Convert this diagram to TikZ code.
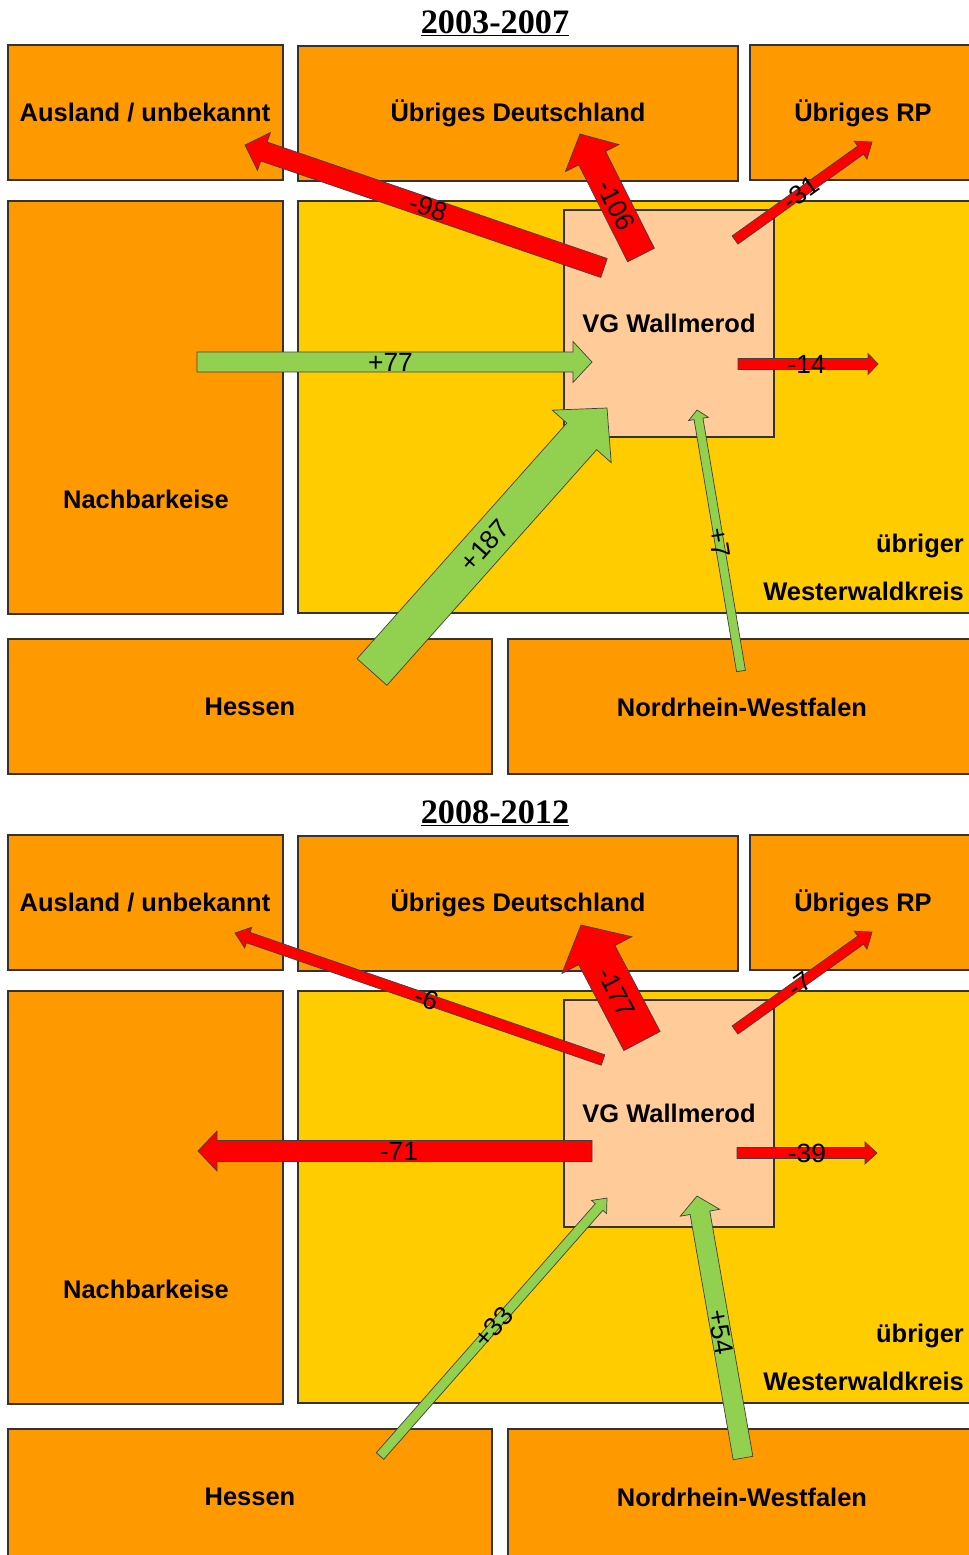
\documentclass[tikz,border=0pt]{standalone}
\usepackage{fontspec}
\setmainfont{Liberation Sans}
\newfontfamily\titlefont{Liberation Serif}
\usepackage{xcolor}
\usepackage{tikz}
\usetikzlibrary{calc}

\definecolor{areaorange}{HTML}{FF9900}
\definecolor{kreisyellow}{HTML}{FFCC00}
\definecolor{vgpeach}{HTML}{FFCC99}
\definecolor{outred}{HTML}{FF0000}
\definecolor{ingreen}{HTML}{92D050}

% block arrow: style, tail, tip, shaft width, head width, head length (px), label pos, label
\newcommand{\flowarrow}[8]{%
  \coordinate (#2h) at ($(#3)!#6*0.02cm!(#2)$);
  \draw[#1] ($(#2)!#4*0.01cm!90:(#3)$) -- ($(#2h)!#4*0.01cm!-90:(#2)$)
    -- ($(#2h)!#5*0.01cm!-90:(#2)$) -- (#3)
    -- ($(#2h)!#5*0.01cm!90:(#2)$) -- ($(#2h)!#4*0.01cm!90:(#2)$)
    -- ($(#2)!#4*0.01cm!-90:(#3)$) -- cycle;
  \path (#2) -- (#3) node[flowlbl, sloped, pos=#7] {#8};
}

\begin{document}
\begin{tikzpicture}[x=0.02cm, y=-0.02cm,
    area/.style={draw=black!80, line width=0.6pt, fill=areaorange},
    kreis/.style={area, fill=kreisyellow},
    vg/.style={area, fill=vgpeach},
    lbl/.style={font=\fontsize{14.5}{17}\selectfont\bfseries, inner sep=1pt},
    title/.style={font=\titlefont\fontsize{19.5}{22}\selectfont\bfseries, inner sep=0pt},
    outflow/.style={draw=black!75, line width=0.4pt, fill=outred},
    inflow/.style={outflow, fill=ingreen},
    flowlbl/.style={font=\fontsize{15}{17}\selectfont, inner sep=0pt}]

\useasboundingbox (0,0) rectangle (968,1555);

% the two periods share the same map of areas
\foreach \dy/\period in {0/2003-2007, 790/2008-2012} {
  \node[title, anchor=base] (title\dy) at (495,33+\dy) {\underline{\period}};
  \draw[area] (8,45+\dy) rectangle (283,180+\dy);
  \draw[area] (298,46+\dy) rectangle (738,181+\dy);
  \draw[area] (750,45+\dy) rectangle (975,180+\dy);
  \draw[area] (8,201+\dy) rectangle (283,614+\dy);
  \draw[kreis] (298,201+\dy) rectangle (975,613+\dy);
  \draw[vg] (564,210+\dy) rectangle (774,437+\dy);
  \draw[area] (8,639+\dy) rectangle (492,774+\dy);
  \draw[area] (508,639+\dy) rectangle (975,774+\dy);
  \node[lbl] (ausland\dy) at (145,113+\dy) {Ausland / unbekannt};
  \node[lbl] (deutsch\dy) at (518,113+\dy) {Übriges Deutschland};
  \node[lbl] (rp\dy) at (863,113+\dy) {Übriges RP};
  \node[lbl] (nachbar\dy) at (146,499+\dy) {Nachbarkeise};
  \node[lbl] (vg\dy) at (669,323+\dy) {VG Wallmerod};
  \node[lbl, anchor=east] (uebriger\dy) at (966,546+\dy) {übriger};
  \node[lbl, anchor=east] (kreis\dy) at (966,591+\dy) {Westerwaldkreis};
  \node[lbl] (hessen\dy) at (250,707+\dy) {Hessen};
  \node[lbl] (nrw\dy) at (742,707+\dy) {Nordrhein-Westfalen};
}

% 2003-2007
\coordinate (ausS1) at (604,268);  \coordinate (ausE1) at (245,145);
\coordinate (deuS1) at (641,255);  \coordinate (deuE1) at (580,134);
\coordinate (rpS1) at (735,240);   \coordinate (rpE1) at (872,142);
\coordinate (nbS1) at (197,362);   \coordinate (nbE1) at (592,362);
\coordinate (wwS1) at (738,364);   \coordinate (wwE1) at (878,364);
\coordinate (heS1) at (372,672);   \coordinate (heE1) at (607,408);
\coordinate (nwS1) at (741,671);   \coordinate (nwE1) at (697,410);
\flowarrow{outflow}{ausS1}{ausE1}{20}{40}{20}{0.49}{-98}
\flowarrow{outflow}{deuS1}{deuE1}{30}{60}{27}{0.41}{-106}
\flowarrow{outflow}{rpS1}{rpE1}{10}{22}{14}{0.48}{-31}
\flowarrow{inflow}{nbS1}{nbE1}{20}{41}{19}{0.49}{+77}
\flowarrow{outflow}{wwS1}{wwE1}{11}{21}{10}{0.49}{-14}
\flowarrow{inflow}{heS1}{heE1}{40}{79}{38}{0.48}{+187}
\flowarrow{inflow}{nwS1}{nwE1}{9}{20}{9}{0.49}{+7}

% 2008-2012
\coordinate (ausS2) at (603,1060); \coordinate (ausE2) at (235,933);
\coordinate (deuS2) at (642,1041); \coordinate (deuE2) at (581,925);
\coordinate (rpS2) at (735,1030);  \coordinate (rpE2) at (872,932);
\coordinate (nbS2) at (592,1151);  \coordinate (nbE2) at (198,1151);
\coordinate (wwS2) at (737,1153);  \coordinate (wwE2) at (877,1153);
\coordinate (heS2) at (380,1456);  \coordinate (heE2) at (607,1198);
\coordinate (nwS2) at (743,1458);  \coordinate (nwE2) at (697,1196);
\flowarrow{outflow}{ausS2}{ausE2}{11}{22}{14}{0.48}{-6}
\flowarrow{outflow}{deuS2}{deuE2}{41}{79}{34}{0.42}{-177}
\flowarrow{outflow}{rpS2}{rpE2}{10}{22}{14}{0.47}{-7}
\flowarrow{outflow}{nbS2}{nbE2}{21}{40}{19}{0.49}{-71}
\flowarrow{outflow}{wwS2}{wwE2}{11}{22}{12}{0.5}{-39}
\flowarrow{inflow}{heS2}{heE2}{10}{20}{12}{0.5}{+33}
\flowarrow{inflow}{nwS2}{nwE2}{20}{40}{17}{0.48}{+54}
\end{tikzpicture}
\end{document}
